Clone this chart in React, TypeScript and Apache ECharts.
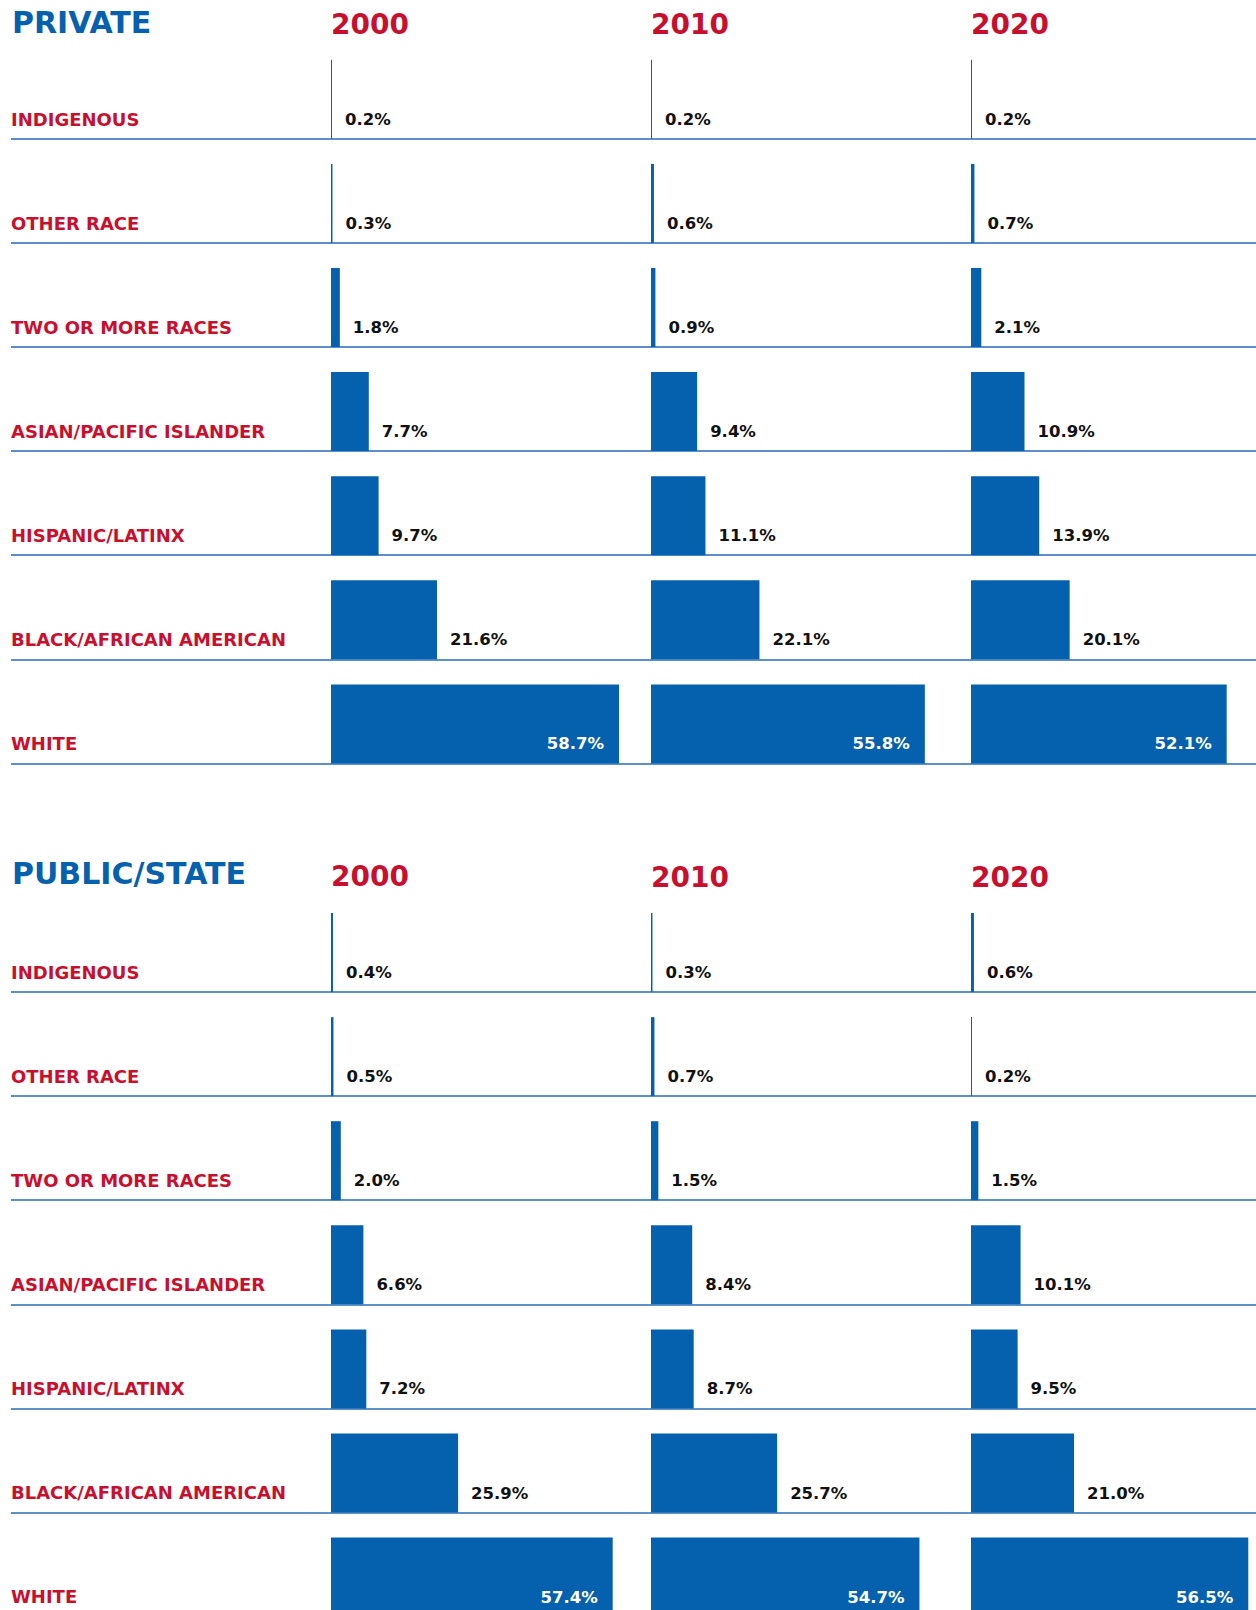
import React, { useEffect, useRef } from "react";
import * as echarts from "echarts";

const categories = [
  "INDIGENOUS",
  "OTHER RACE",
  "TWO OR MORE RACES",
  "ASIAN/PACIFIC ISLANDER",
  "HISPANIC/LATINX",
  "BLACK/AFRICAN AMERICAN",
  "WHITE",
];
const years = ["2000", "2010", "2020"];
const sectionTitles = ["PRIVATE", "PUBLIC/STATE"];

const private2000 = [0.2, 0.3, 1.8, 7.7, 9.7, 21.6, 58.7];
const private2010 = [0.2, 0.6, 0.9, 9.4, 11.1, 22.1, 55.8];
const private2020 = [0.2, 0.7, 2.1, 10.9, 13.9, 20.1, 52.1];
const public2000 = [0.4, 0.5, 2.0, 6.6, 7.2, 25.9, 57.4];
const public2010 = [0.3, 0.7, 1.5, 8.4, 8.7, 25.7, 54.7];
const public2020 = [0.6, 0.2, 1.5, 10.1, 9.5, 21.0, 56.5];

const sections = [
  [private2000, private2010, private2020],
  [public2000, public2010, public2020],
];

const BLUE = "#0560ae";
const RED = "#c8102e";
const LINE = "#2a6ab4";
const FONT = "DejaVu Sans";

export default function App() {
  const ref = useRef<HTMLDivElement>(null);

  useEffect(() => {
    if (!ref.current) return;
    const chart = echarts.init(ref.current, undefined, { renderer: "svg" });

    const pitch = 104.1;
    const barH = 79;
    const gridH = pitch * 7;
    const firstBaselines = [138.8, 992];
    const colLefts = [331, 651, 971];
    const colWidth = 319;
    const xMax = 65;

    const grid: any[] = [];
    const xAxis: any[] = [];
    const yAxis: any[] = [];
    const series: any[] = [];
    const graphic: any[] = [];

    const titleY = [22, 873.5];
    const yearY = [[24, 24, 24], [876, 877, 877]];

    sections.forEach((cols, s) => {
      const labelTop = firstBaselines[s] - pitch;
      // label / rule grid
      const gi = grid.length;
      grid.push({
        left: 11,
        right: 0,
        top: labelTop,
        height: gridH,
        containLabel: false,
        outerBoundsMode: "none",
      });
      xAxis.push({ type: "value", gridIndex: gi, min: 0, max: 1, show: false });
      yAxis.push({
        type: "category",
        gridIndex: gi,
        data: categories,
        inverse: true,
        axisLine: { show: false },
        axisTick: { show: false },
        splitLine: {
          show: true,
          showMinLine: false,
          showMaxLine: true,
          lineStyle: { color: LINE, width: 1.5 },
        },
        axisLabel: {
          inside: true,
          margin: 0,
          interval: 0,
          showMinLabel: true,
          showMaxLabel: true,
          hideOverlap: false,
          color: RED,
          fontFamily: FONT,
          fontWeight: "bold",
          fontSize: 18,
          lineHeight: 64.8,
          verticalAlign: "top",
        },
      });

      graphic.push({
        type: "text",
        x: 12,
        y: titleY[s],
        style: {
          text: sectionTitles[s],
          font: `bold 30px "${FONT}"`,
          fill: BLUE,
          verticalAlign: "middle",
        },
      });

      cols.forEach((vals, c) => {
        const ci = grid.length;
        grid.push({
          left: colLefts[c],
          width: colWidth,
          top: labelTop + (pitch - barH) / 2,
          height: gridH,
          containLabel: false,
          outerBoundsMode: "none",
        });
        xAxis.push({ type: "value", gridIndex: ci, min: 0, max: xMax, show: false });
        yAxis.push({
          type: "category",
          gridIndex: ci,
          data: categories,
          inverse: true,
          show: false,
        });
        series.push({
          type: "bar",
          xAxisIndex: ci,
          yAxisIndex: ci,
          barWidth: barH,
          itemStyle: { color: BLUE },
          label: {
            show: true,
            position: "right",
            distance: 13,
            offset: [0, 20],
            color: "#111",
            fontFamily: FONT,
            fontWeight: "bold",
            fontSize: 16.5,
            formatter: (p: any) => Number(p.value).toFixed(1) + "%",
          },
          data: vals.map((v, i) =>
            i === vals.length - 1
              ? {
                  value: v,
                  label: {
                    position: "insideRight",
                    distance: 15,
                    offset: [0, 20],
                    color: "#fff",
                  },
                }
              : v
          ),
        });

        graphic.push({
          type: "text",
          x: colLefts[c],
          y: yearY[s][c],
          style: {
            text: years[c],
            font: `bold 28px "${FONT}"`,
            fill: RED,
            verticalAlign: "middle",
          },
        });
      });
    });

    chart.setOption({
      animation: false,
      backgroundColor: "#ffffff",
      grid,
      xAxis,
      yAxis,
      series,
      graphic,
    });

    return () => chart.dispose();
  }, []);

  return (
    <div
      style={{
        position: "fixed",
        left: 0,
        top: 0,
        width: 1256,
        height: 1610,
        overflow: "hidden",
        background: "#fff",
      }}
    >
      <div ref={ref} style={{ width: 1256, height: 1640 }} />
    </div>
  );
}
